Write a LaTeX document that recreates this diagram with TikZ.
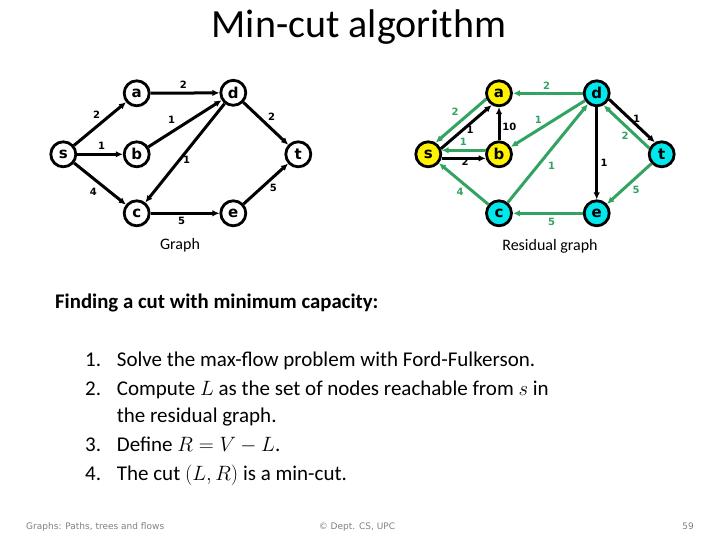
\documentclass[tikz,border=0pt]{standalone}
\usepackage{fontspec}
\setmainfont{Carlito}
\newfontfamily\dvs{DejaVu Sans}
\usetikzlibrary{arrows.meta}
\definecolor{resgreen}{RGB}{51,163,98}
\definecolor{nodecyan}{RGB}{0,232,236}
\definecolor{nodeyellow}{RGB}{255,242,0}
\definecolor{footgray}{RGB}{128,128,128}
\tikzset{
  vtx/.style={circle, draw=black, line width=2.8pt, minimum size=25pt, inner sep=0pt,
    font=\dvs\bfseries\fontsize{15}{15}\selectfont},
  ylw/.style={vtx, fill=nodeyellow},
  cyn/.style={vtx, fill=nodecyan},
  arc/.style={line width=3pt, -{Latex[length=7pt,width=6.5pt]}},
  garc/.style={arc, draw=resgreen},
  lbl/.style={font=\dvs\bfseries\fontsize{10}{10}\selectfont, inner sep=0pt},
  glbl/.style={lbl, text=resgreen},
  gcaption/.style={font=\fontsize{16}{16}\selectfont, inner sep=0pt},
  body/.style={font=\fontsize{21}{21}\selectfont, inner sep=0pt, anchor=base west},
  foot/.style={font=\dvs\fontsize{9}{9}\selectfont, text=footgray, inner sep=0pt, anchor=base west}
}
\begin{document}
\begin{tikzpicture}[x=1pt,y=-1pt]
\useasboundingbox (0,0) rectangle (720,540);
% Title
\node[inner sep=0pt, anchor=base, font=\fontsize{40}{40}\selectfont] (title) at (359,37.5) {Min-cut algorithm};
% ---------- Graph ----------
\node[vtx] (s) at (63.3,154.3) {s};
\node[vtx] (a) at (136.7,93.3) {a};
\node[vtx] (b) at (136.7,154.3) {b};
\node[vtx] (c) at (136.7,213.3) {c};
\node[vtx] (d) at (233.3,92.8) {d};
\node[vtx] (e) at (233.3,213.3) {e};
\node[vtx] (t) at (298.3,154.3) {t};
\draw[arc] (s) -- (a);
\draw[arc] (s) -- (b);
\draw[arc] (s) -- (c);
\draw[arc] (a) -- (d);
\draw[arc] (b) -- (d);
\draw[arc] (d) -- (c);
\draw[arc] (d) -- (t);
\draw[arc] (c) -- (e);
\draw[arc] (e) -- (t);
\node[lbl] (l1) at (96.7,115) {2};
\node[lbl] (l2) at (101.7,146) {1};
\node[lbl] (l3) at (93.3,191.7) {4};
\node[lbl] (l4) at (183.3,85) {2};
\node[lbl] (l5) at (171.7,120) {1};
\node[lbl] (l6) at (186.7,160) {1};
\node[lbl] (l7) at (271.7,116.7) {2};
\node[lbl] (l8) at (273.3,188.3) {5};
\node[lbl] (l9) at (181.7,221) {5};
\node[gcaption] (gcap) at (180,245) {Graph};
% ---------- Residual graph ----------
\node[ylw] (rs) at (428.3,154.3) {s};
\node[ylw] (ra) at (499,93.3) {a};
\node[ylw] (rb) at (499,154.3) {b};
\node[cyn] (rc) at (499,213.3) {c};
\node[cyn] (rd) at (596.7,93.3) {d};
\node[cyn] (re) at (596.7,213.3) {e};
\node[cyn] (rt) at (661.7,154.3) {t};
\draw[garc] (ra.204) -- (rs.58);
\draw[arc] (rs.24) -- (ra.238);
\draw[garc] (rb.163) -- (rs.17);
\draw[arc] (rs.-17) -- (rb.197);
\draw[arc] (rb) -- (ra);
\draw[garc] (rd) -- (ra);
\draw[garc] (rd) -- (rb);
\draw[garc] (rc) -- (rd);
\draw[arc] (rd) -- (re);
\draw[arc] (rd.-26) -- (rt.120);
\draw[garc] (rt.154) -- (rd.-60);
\draw[garc] (rt) -- (re);
\draw[garc] (rc) -- (rs);
\draw[garc] (re) -- (rc);
\node[glbl] (r1) at (455,111.7) {2};
\node[lbl] (r2) at (470,130) {1};
\node[lbl] (r3) at (509.3,126.7) {10};
\node[glbl] (r4) at (463.3,141.7) {1};
\node[lbl] (r5) at (465,161.7) {2};
\node[glbl] (r6) at (546.7,86) {2};
\node[glbl] (r7) at (538.3,120) {1};
\node[glbl] (r8) at (551.7,166) {1};
\node[lbl] (r9) at (604,163.3) {1};
\node[lbl] (r10) at (636.7,119.3) {1};
\node[glbl] (r11) at (625,136) {2};
\node[glbl] (r12) at (636,190) {5};
\node[glbl] (r13) at (460,191.7) {4};
\node[glbl] (r14) at (551.7,221.7) {5};
\node[gcaption] (rcap) at (550,246.7) {Residual graph};
% ---------- Text ----------
\node[body, font=\bfseries\fontsize{20.8}{20.8}\selectfont] (head) at (55,308.3) {Finding a cut with minimum capacity:};
\node[body] (n1) at (85,366) {1.};
\node[body] (t1) at (116.7,366) {Solve the max-flow problem with Ford-Fulkerson.};
\node[body] (n2) at (85,395) {2.};
\node[body] (t2) at (116.7,395) {Compute $L$ as the set of nodes reachable from $s$ in};
\node[body] (t2b) at (116.7,422.7) {the residual graph.};
\node[body] (n3) at (85,451.7) {3.};
\node[body] (t3) at (116.7,451.7) {Define $R=V-L$.};
\node[body] (n4) at (85,480) {4.};
\node[body] (t4) at (116.7,480) {The cut $(L,R)$ is a min-cut.};
% ---------- Footer ----------
\node[foot] (f1) at (26,529.5) {Graphs: Paths, trees and flows};
\node[foot, anchor=base] (f2) at (357,529.5) {© Dept. CS, UPC};
\node[foot, anchor=base east] (f3) at (694,529.5) {59};
\end{tikzpicture}
\end{document}
